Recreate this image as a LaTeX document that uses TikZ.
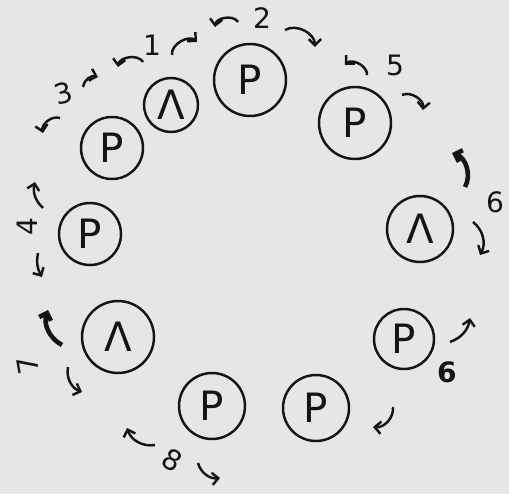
\documentclass[tikz,border=0pt]{standalone}
\usepackage{fontspec}
\setmainfont{DejaVu Sans}
\usetikzlibrary{arrows.meta}
\definecolor{paper}{RGB}{228,230,231}
\definecolor{ink}{RGB}{20,20,20}

\begin{document}
\begin{tikzpicture}[x=0.02cm, y=0.02cm, >={Straight Barb[length=3.5pt, width=7pt]}, line width=1.4pt, draw=ink, text=ink]
  % Styles
  \tikzstyle{token}=[circle, draw=ink, line width=1.4pt, inner sep=0pt, font=\fontsize{23}{26}\selectfont]
  \tikzstyle{num}=[inner sep=0pt, font=\fontsize{16}{18}\selectfont]
  \tikzstyle{hook}=[draw=ink, line width=1.4pt]
  \tikzstyle{boldhook}=[draw=ink, line width=2.6pt]

  % Paper
  \fill[paper] (0,0) rectangle (509,494);
  \useasboundingbox (0,0) rectangle (509,494);

  % --- Nodes ---
  \node[token, minimum size=1.44cm] (pTop) at (250,414) {P};
  \node[token, minimum size=1.08cm] (lamTL) at (171,389) {Λ};
  \node[token, minimum size=1.24cm] (pL1) at (112,346) {P};
  \node[token, minimum size=1.44cm] (pR1) at (355,371) {P};
  \node[token, minimum size=1.32cm] (lamR) at (420,265) {Λ};
  \node[token, minimum size=1.24cm] (pL2) at (90,260) {P};
  \node[token, minimum size=1.44cm] (lamL) at (118,157) {Λ};
  \node[token, minimum size=1.20cm] (pR2) at (404,155) {P};
  \node[token, minimum size=1.32cm] (pB1) at (212,88) {P};
  \node[token, minimum size=1.32cm] (pB2) at (316,86) {P};

  % --- Labels ---
  \node[num] (n1) at (152,449) {1};
  \node[num] (n2) at (262,476) {2};
  \node[num, rotate=15] (n3) at (63,401) {3};
  \node[num, rotate=90] (n4) at (27,267) {4};
  \node[num] (n5) at (395,429) {5};
  \node[num] (n6) at (495,292) {6};
  \node[num, rotate=100] (n7) at (28,129) {7};
  \node[num, rotate=-30] (n8) at (172,34) {8};
  \node[num, font=\fontsize{16}{18}\bfseries] (n6b) at (447,122) {6};

  % --- Hook ends ---
  \coordinate (a1s) at (143,432); \coordinate (a1e) at (118,427);
  \coordinate (a2s) at (172,439); \coordinate (a2e) at (197,452);
  \coordinate (a3s) at (238,472); \coordinate (a3e) at (215,467);
  \coordinate (a4s) at (285,464); \coordinate (a4e) at (315,447);
  \coordinate (a5s) at (367,419); \coordinate (a5e) at (345,429);
  \coordinate (a6s) at (402,399); \coordinate (a6e) at (423,384);
  \coordinate (a7s) at (465,307); \coordinate (a7e) at (452,341);
  \coordinate (a8s) at (473,272); \coordinate (a8e) at (480,239);
  \coordinate (a9s) at (450,152); \coordinate (a9e) at (470,176);
  \coordinate (a10s) at (393,87); \coordinate (a10e) at (373,67);
  \coordinate (a11s) at (155,49); \coordinate (a11e) at (127,66);
  \coordinate (a12s) at (198,31); \coordinate (a12e) at (220,16);
  \coordinate (a13s) at (62,149); \coordinate (a13e) at (48,184);
  \coordinate (a14s) at (68,127); \coordinate (a14e) at (82,102);
  \coordinate (a15s) at (43,286); \coordinate (a15e) at (35,312);
  \coordinate (a16s) at (38,241); \coordinate (a16e) at (42,217);
  \coordinate (a17s) at (60,376); \coordinate (a17e) at (43,361);
  \coordinate (a18s) at (83,407); \coordinate (a18e) at (98,417);

  % --- Hooks ---
  % top arc
  \path[->]
    (a1s) edge [hook, bend right=70] (a1e)
    (a2s) edge [hook, bend left=70] (a2e)
    (a3s) edge [hook, bend right=70] (a3e)
    (a4s) edge [hook, bend left=60] (a4e)
    (a5s) edge [hook, bend right=70] (a5e)
    (a6s) edge [hook, bend left=60] (a6e)
    (a17s) edge [hook, bend right=60] (a17e)
    (a18s) edge [hook, bend left=50] (a18e);

  % right side
  \path[->]
    (a7s) edge [boldhook, bend right=50] (a7e)
    (a8s) edge [hook, bend left=40] (a8e)
    (a9s) edge [hook, bend right=30] (a9e)
    (a10s) edge [hook, bend left=50] (a10e);

  % bottom and left side
  \path[->]
    (a11s) edge [hook, bend left=40] (a11e)
    (a12s) edge [hook, bend right=40] (a12e)
    (a13s) edge [boldhook, bend left=40] (a13e)
    (a14s) edge [hook, bend right=40] (a14e)
    (a15s) edge [hook, bend left=30] (a15e)
    (a16s) edge [hook, bend right=20] (a16e);

\end{tikzpicture}
\end{document}
